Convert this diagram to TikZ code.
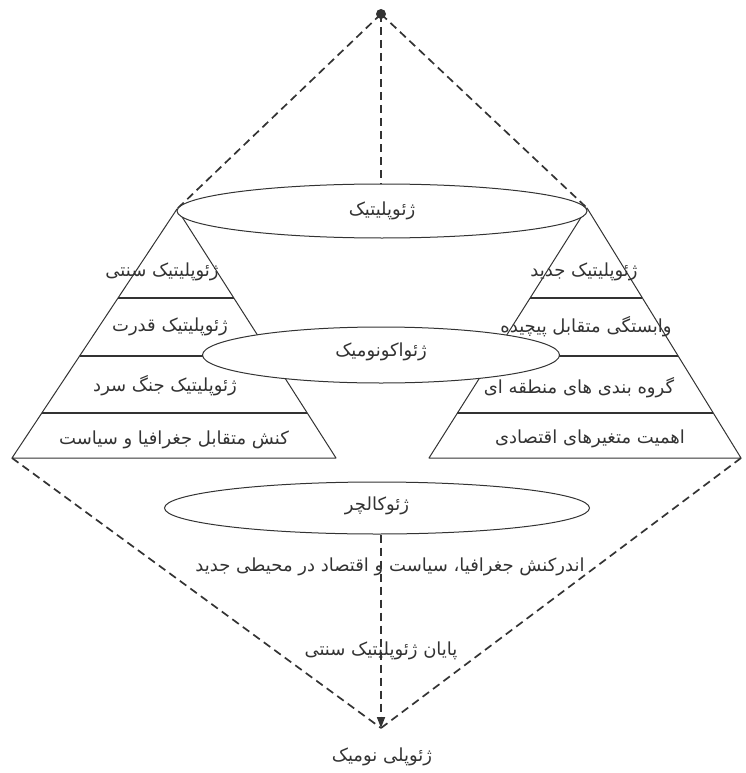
\documentclass[tikz,border=0pt]{standalone}
\usepackage{fontspec}
\newfontfamily\arabicfont[Script=Arabic]{DejaVu Sans}
\TeXXeTstate=1
\usetikzlibrary{shapes.geometric,calc,arrows.meta}
\definecolor{ink}{HTML}{333333}
\tikzset{
  ar/.style={font=\arabicfont\fontsize{18}{20}\selectfont, text=ink, inner sep=1pt},
  oval/.style={ellipse, draw=ink, line width=1pt, fill=white, inner sep=0pt},
  tri/.style={draw=ink, line width=1pt, line join=round},
  sep/.style={draw=ink, line width=1.7pt},
  dline/.style={draw=ink, line width=1.7pt, dash pattern=on 8pt off 5pt},
}
\begin{document}
\begin{tikzpicture}[x=1pt,y=-1pt]
\useasboundingbox (0,0) rectangle (745,773);
% key points
\coordinate (top) at (381,14);
\coordinate (bot) at (381,728);
\coordinate (La) at (177,209);
\coordinate (Ll) at (12,458);
\coordinate (Lr) at (336,458);
\coordinate (Ra) at (587,208);
\coordinate (Rl) at (429,458);
\coordinate (Rr) at (741,458);
% triangles
\draw[tri] (La) -- (Ll) -- (Lr) -- cycle;
\draw[tri] (Ra) -- (Rl) -- (Rr) -- cycle;
% separators
\foreach \f in {0.357,0.590,0.819}{
  \draw[sep] ($(La)!\f!(Ll)$) -- ($(La)!\f!(Lr)$);
}
\foreach \f in {0.36,0.592,0.82}{
  \draw[sep] ($(Ra)!\f!(Rl)$) -- ($(Ra)!\f!(Rr)$);
}
% diamond dashed lines
\draw[dline] (top) -- (La);
\draw[dline] (top) -- (Ra);
\draw[dline] (Ll) -- (bot);
\draw[dline] (Rr) -- (bot);
% ellipses
\node[oval, minimum width=410pt, minimum height=54pt] (e1) at (382,211) {};
\node[ar] at (e1.center) {\beginR ژئوپلیتیک\endR};
\node[oval, minimum width=357pt, minimum height=56pt] (e2) at (381,355) {};
\node[ar] at (381,352) {\beginR ژئواکونومیک\endR};
\node[oval, minimum width=425pt, minimum height=52pt] (e3) at (377,508) {};
\node[ar] at (377,506) {\beginR ژئوکالچر\endR};
% top dot and vertical dashed arrow
\fill[ink] (top) circle (5pt);
\draw[dline] (top) -- (top |- e1.north);
\draw[dline, -{Triangle[length=11pt,width=8pt]}] (bot |- e3.south) -- (bot);
% left triangle labels
\node[ar] (l1) at (162,272) {\beginR ژئوپلیتیک سنتی\endR};
\node[ar] (l2) at (170,327) {\beginR ژئوپلیتیک قدرت\endR};
\node[ar] (l3) at (165,386) {\beginR ژئوپلیتیک جنگ سرد\endR};
\node[ar] (l4) at (174,440) {\beginR کنش متقابل جغرافیا و سیاست\endR};
% right triangle labels
\node[ar] (r1) at (584,272) {\beginR ژئوپلیتیک جدید\endR};
\node[ar] (r2) at (586,327) {\beginR وابستگی متقابل پیچیده\endR};
\node[ar] (r3) at (579,388) {\beginR گروه بندی های منطقه ای\endR};
\node[ar] (r4) at (590,439) {\beginR اهمیت متغیرهای اقتصادی\endR};
% bottom labels
\node[ar] (b1) at (390,567) {\beginR اندرکنش جغرافیا، سیاست و اقتصاد در محیطی جدید\endR};
\node[ar] (b2) at (381,651) {\beginR پایان ژئوپلیتیک سنتی\endR};
\node[ar] (b3) at (382,757) {\beginR ژئوپلی نومیک\endR};
\end{tikzpicture}
\end{document}
